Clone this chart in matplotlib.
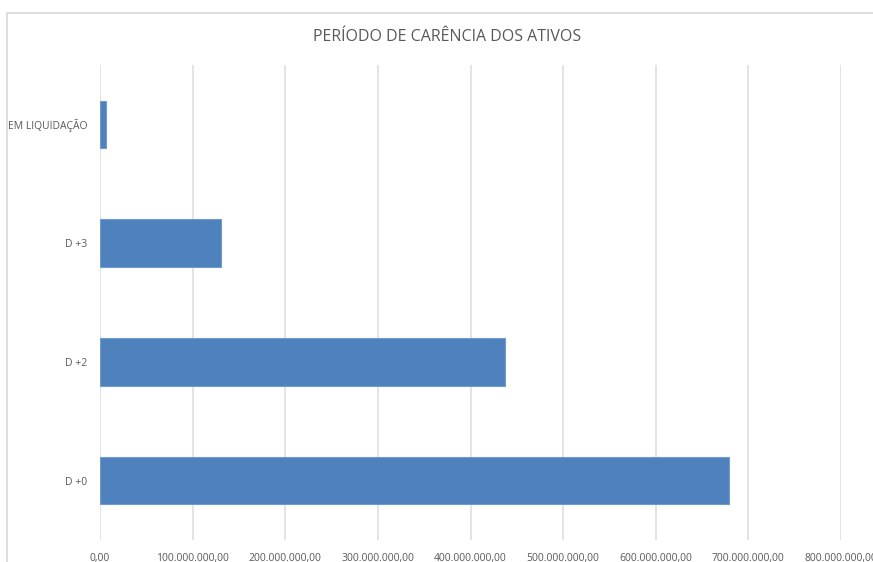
import matplotlib
matplotlib.use('Agg')
import matplotlib.pyplot as plt
from matplotlib.patches import Rectangle
from matplotlib.ticker import FuncFormatter

# Dados (valores aproximados)
categorias = ['D +0', 'D +2', 'D +3', 'EM LIQUIDAÇÃO']
valores = [679_000_000, 437_000_000, 131_000_000, 7_000_000]
ticks_x = [0, 100e6, 200e6, 300e6, 400e6, 500e6, 600e6, 700e6, 800e6]

plt.rcParams['font.family'] = ['Open Sans', 'DejaVu Sans']

fig = plt.figure(figsize=(8.73, 5.62), dpi=100)

# borda do gráfico (parcialmente cortada como no original)
fig.patches.append(Rectangle((7 / 873, -0.1), 1.2, 1 - 13 / 562 + 0.1,
                             transform=fig.transFigure, fill=False,
                             edgecolor='#d9d9d9', linewidth=1.2))

ax = fig.add_axes([100 / 873, 1 - 540 / 562, 741 / 873, 475 / 562])

pos = range(len(categorias))
ax.barh(pos, valores, height=0.4, color='#4f81bd', edgecolor='#6f9bd1',
        linewidth=0.8, zorder=3)

ax.set_xlim(0, 800e6)
ax.set_ylim(-0.5, len(categorias) - 0.5)
ax.set_xticks(ticks_x)
ax.xaxis.set_major_formatter(FuncFormatter(
    lambda x, _: f'{x:,.2f}'.replace(',', 'X').replace('.', ',').replace('X', '.')))
ax.set_yticks(list(pos))
ax.set_yticklabels(categorias)

ax.grid(axis='x', color='#dcdcdc', linewidth=1.1, zorder=0)
for s in ax.spines.values():
    s.set_visible(False)
ax.tick_params(axis='both', length=0, labelsize=7.5, labelcolor='#595959')
ax.tick_params(axis='x', pad=9)
ax.tick_params(axis='y', pad=9)

fig.text(447 / 873, 1 - 37 / 562, 'PERÍODO DE CARÊNCIA DOS ATIVOS',
         ha='center', va='center', fontsize=11.5, color='#595959')

plt.savefig('out.png', dpi=100)
